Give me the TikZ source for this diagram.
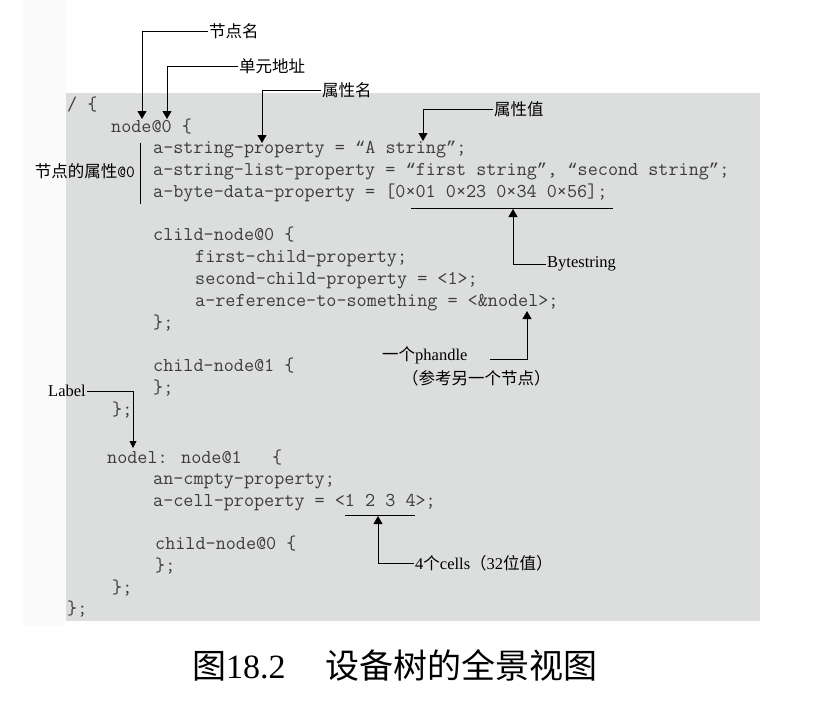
\documentclass[tikz,border=0pt]{standalone}
\usepackage{fontspec}
\setmainfont{Liberation Serif}
\newfontfamily\cjk{Noto Sans CJK SC}
\newfontfamily\qfontfam{Liberation Mono}
\usetikzlibrary{arrows.meta}
\definecolor{boxgray}{HTML}{DCDDDD}
\definecolor{codecol}{HTML}{3C3C3C}
\definecolor{stripgray}{HTML}{FAFAFA}
\newcommand{\codefont}{\fontsize{19.6}{22}\selectfont\ttfamily}
\newcommand{\myLQ}{{\qfontfam\fontsize{17.15}{22}\selectfont “}}
\newcommand{\myRQ}{{\qfontfam\fontsize{17.15}{22}\selectfont ”}}
\tikzset{
  codeline/.style={anchor=base west, inner sep=0pt, font=\codefont, text=codecol},
  lbl/.style={inner sep=1pt, font=\fontsize{16.5}{19}\selectfont, text=black},
  arr/.style={-{Triangle[width=9pt,length=8pt]}, line width=0.9pt},
  smallarr/.style={-{Triangle[width=7pt,length=7pt]}, line width=0.9pt},
  plain/.style={line width=0.9pt},
}
\begin{document}
\begin{tikzpicture}[x=1pt,y=-1pt]
\useasboundingbox (0,0) rectangle (821,712);
\fill[stripgray] (23,0) rectangle (66,626);
\fill[boxgray] (66,93) rectangle (760,621);

% code lines
\node[codeline] (l0)  at (67,110.5)  {/ \{};
\node[codeline] (l1)  at (111,132)   {node@0 \{};
\node[codeline] (l2)  at (153,153.5) {a-string-property = \myLQ A string\myRQ;};
\node[codeline] (l3)  at (153,175.5) {a-string-list-property = \myLQ first string\myRQ, \myLQ second string\myRQ;};
\node[codeline] (l4)  at (153,197.5) {a-byte-data-property = [0×01 0×23 0×34 0×56];};
\node[codeline] (l6)  at (153,240.5) {clild-node@0 \{};
\node[codeline] (l7)  at (195,262.5) {first-child-property;};
\node[codeline] (l8)  at (195,284.5) {second-child-property = <1>;};
\node[codeline] (l9)  at (195,306.5) {a-reference-to-something = <\&nodel>;};
\node[codeline] (l10) at (153,328.5) {\};};
\node[codeline] (l12) at (153,371.5) {child-node@1 \{};
\node[codeline] (l13) at (153,393.5) {\};};
\node[codeline] (l14) at (112,415.5) {\};};
\node[codeline] (l16) at (107,463.5) {nodel: node@1\ \ \ \{};
\node[codeline] (l17) at (153,484.5) {an-cmpty-property;};
\node[codeline] (l18) at (153,506.5) {a-cell-property = <1 2 3 4>;};
\node[codeline] (l20) at (155,549.5) {child-node@0 \{};
\node[codeline] (l21) at (155,571.5) {\};};
\node[codeline] (l22) at (112,593.5) {\};};
\node[codeline] (l23) at (67,614.5)  {\};};

% property bracket
\node[lbl, anchor=east] (props) at (136,171) {{\cjk 节点的属性}{\codefont\fontsize{17}{19}\selectfont @0}};
\coordinate (barT) at (140,143);
\coordinate (barB) at (140,204);
\draw[plain] (barT) -- (barB);

% labels
\node[lbl, anchor=west] (nname) at (208,31) {\cjk 节点名};
\node[lbl, anchor=west] (uaddr) at (238,66) {\cjk 单元地址};
\node[lbl, anchor=west] (pname) at (321,90) {\cjk 属性名};
\node[lbl, anchor=west] (pval)  at (493,109) {\cjk 属性值};
\node[lbl, anchor=west] (bstr)  at (546,264) {Bytestring};
\node[lbl, anchor=west] (ph1)   at (381,355) {{\cjk 一个}phandle};
\node[lbl, anchor=west] (ph2)   at (401,378) {\cjk （参考另一个节点）};
\node[lbl, anchor=east] (lab)   at (87,391) {Label};
\node[lbl, anchor=west] (cells) at (414,563) {4{\cjk 个}cells{\cjk （}32{\cjk 位值）}};

% tips
\coordinate (tNname) at (142,119);
\coordinate (tUaddr) at (167,119);
\coordinate (tPname) at (262,143);
\coordinate (tPval)  at (423,141);
\coordinate (tBstr)  at (513,209);
\coordinate (tPh)    at (527,311);
\coordinate (phS)    at (490,359);
\coordinate (tLab)   at (133,448);
\coordinate (tCells) at (378,516);

% underlines
\coordinate (ubA) at (411,208); \coordinate (ubB) at (613,208);
\coordinate (ucA) at (345,515); \coordinate (ucB) at (415,515);
\draw[plain] (ubA) -- (ubB);
\draw[plain] (ucA) -- (ucB);

% arrows
\draw[arr] (nname.west) -| (tNname);
\draw[arr] (uaddr.west) -| (tUaddr);
\draw[arr] (pname.west) -| (tPname);
\draw[arr] (pval.west)  -| (tPval);
\draw[arr] (bstr.west)  -| (tBstr);
\draw[arr] (phS) -| (tPh);
\draw[smallarr] (lab.east) -| (tLab);
\draw[arr] (cells.west) -| (tCells);

% caption
\node[anchor=west, inner sep=0pt, font=\fontsize{34}{40}\selectfont] (cap) at (192,665)
  {{\cjk 图}18.2\hspace{40pt}{\cjk 设备树的全景视图}};
\end{tikzpicture}
\end{document}
